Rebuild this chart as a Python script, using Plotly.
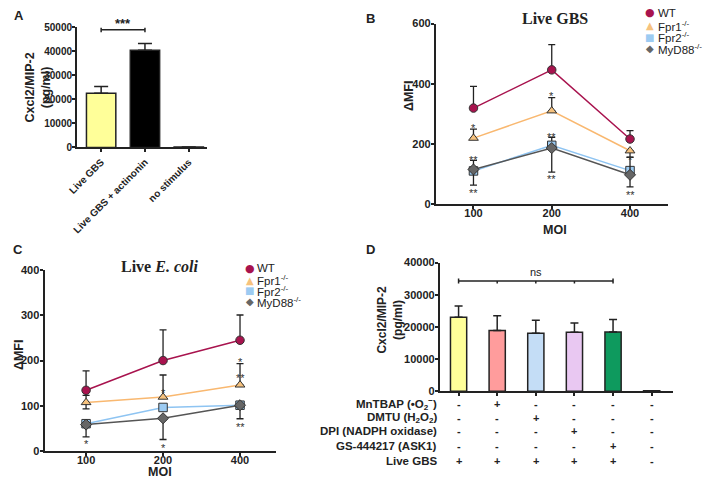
import plotly.graph_objects as go

W, H = 709, 487
def fx(p): return p / W
def fy(p): return 1 - p / H

FONT = "Arial, Liberation Sans, sans-serif"
SERIF = "Times New Roman, Liberation Serif, serif"
INK = "#222222"

# ---------------- data ----------------
A_labels = ["Live GBS", "Live GBS + actinonin", "no stimulus"]
A_values = [22600, 40500, 150]
A_err = [2800, 2800, 0]
A_colors = ["#FFFF99", "#000000", "#FFFFFF"]

moi_labels = ["100", "200", "400"]
series_names = ["WT", "Fpr1<sup>-/-</sup>", "Fpr2<sup>-/-</sup>", "MyD88<sup>-/-</sup>"]
series_colors = ["#A8134E", "#F9B870", "#8EC4F2", "#555555"]
marker_fill = ["#A8134E", "#F6C27E", "#9CCBF2", "#666666"]
marker_symbols = ["circle", "triangle-up", "square", "diamond"]
legend_glyphs = ["●", "▲", "■", "◆"]

# Panel B: Live GBS (mean, error up, error down)
B_WT = [319, 446, 216];   B_WT_up = [72, 84, 28];  B_WT_dn = [0, 0, 0]
B_F1 = [219, 310, 177];   B_F1_up = [30, 44, 0];   B_F1_dn = [0, 0, 22]
B_F2 = [110, 195, 111];   B_F2_up = [0, 27, 0];    B_F2_dn = [0, 0, 0]
B_MY = [115, 186, 97];    B_MY_up = [30, 0, 59];   B_MY_dn = [52, 80, 40]
B_stars = [(0, 262, "*"), (0, 157, "**"), (0, 46, "**"),
           (1, 368, "*"), (1, 232, "**"), (1, 94, "**"),
           (2, 157, "*"), (2, 41, "**")]

# Panel C: Live E. coli
C_WT = [134, 200, 245];   C_WT_up = [43, 68, 56];  C_WT_dn = [0, 0, 0]
C_F1 = [107, 119, 146];   C_F1_up = [16, 49, 47];  C_F1_dn = [14, 0, 0]
C_F2 = [60, 96, 101];     C_F2_up = [0, 0, 0];     C_F2_dn = [0, 0, 0]
C_MY = [58, 72, 101];     C_MY_up = [0, 0, 0];     C_MY_dn = [27, 47, 30]
C_stars = [(0, 22, "*"), (1, 135, "*"), (1, 13, "*"),
           (2, 204, "*"), (2, 168, "**"), (2, 60, "**")]

# Panel D
D_values = [23000, 18900, 18000, 18300, 18400, 150]
D_err = [3500, 4600, 4100, 2900, 3900, 0]
D_colors = ["#FFFF99", "#FF9C9C", "#C4DDF6", "#E9C8F2", "#0E9A5E", "#FFFFFF"]
D_rows = ["MnTBAP (•O<sub>2</sub><sup>−</sup>)", "DMTU (H<sub>2</sub>O<sub>2</sub>)",
          "DPI (NADPH oxidase)", "GS-444217 (ASK1)", "Live GBS"]
D_matrix = [["-", "+", "-", "-", "-", "-"],
            ["-", "-", "+", "-", "-", "-"],
            ["-", "-", "-", "+", "-", "-"],
            ["-", "-", "-", "-", "+", "-"],
            ["+", "+", "+", "+", "+", "-"]]

# ---------------- figure ----------------
fig = go.Figure()

def err(up, dn, w):
    return dict(type="data", symmetric=False, array=up, arrayminus=dn,
                color=INK, thickness=1.3, width=w)

# A
fig.add_trace(go.Bar(x=list(range(3)), y=A_values, width=0.67,
                     marker=dict(color=A_colors, line=dict(color=INK, width=1.5)),
                     error_y=dict(type="data", array=A_err, arrayminus=[0]*3, symmetric=False,
                                  color=INK, thickness=1.5, width=7),
                     xaxis="x", yaxis="y", showlegend=False))

# B and C
for axes, groups in (
    (("x2", "y2"), [(B_WT, B_WT_up, B_WT_dn), (B_F1, B_F1_up, B_F1_dn),
                    (B_F2, B_F2_up, B_F2_dn), (B_MY, B_MY_up, B_MY_dn)]),
    (("x3", "y3"), [(C_WT, C_WT_up, C_WT_dn), (C_F1, C_F1_up, C_F1_dn),
                    (C_F2, C_F2_up, C_F2_dn), (C_MY, C_MY_up, C_MY_dn)])):
    for i, (ys, up, dn) in enumerate(groups):
        fig.add_trace(go.Scatter(x=list(range(3)), y=ys, mode="lines+markers",
                                 line=dict(color=series_colors[i], width=1.5),
                                 marker=dict(symbol=marker_symbols[i], size=8.5, color=marker_fill[i],
                                             line=dict(color="#333333", width=1)),
                                 error_y=err(up, dn, 3.5), xaxis=axes[0], yaxis=axes[1],
                                 showlegend=False))

# D
fig.add_trace(go.Bar(x=list(range(6)), y=D_values, width=0.42,
                     marker=dict(color=D_colors, line=dict(color=INK, width=1.5)),
                     error_y=dict(type="data", array=D_err, arrayminus=[0]*6, symmetric=False,
                                  color=INK, thickness=1.5, width=4),
                     xaxis="x4", yaxis="y4", showlegend=False))

tickfont = dict(family=FONT, size=11, color=INK, weight="bold")
base = dict(showline=True, linecolor=INK, linewidth=2, ticks="outside", ticklen=3,
            tickwidth=1.5, tickcolor=INK, showgrid=False, zeroline=False, tickfont=tickfont)
xb = dict(base, ticklabelstandoff=-5)
yb = dict(base, ticklabelstandoff=-2, tickformat="d")

fig.update_layout(
    width=W, height=H, margin=dict(l=0, r=0, t=0, b=0),
    paper_bgcolor="white", plot_bgcolor="white", showlegend=False,
    xaxis=dict(base, domain=[fx(68), fx(200)], range=[-0.55, 2.42], tickvals=[0, 1, 2],
               ticktext=A_labels, tickangle=-45, anchor="y",
               tickfont=dict(tickfont, size=10)),
    yaxis=dict(yb, domain=[fy(145), fy(22)], range=[0, 50000], dtick=10000, anchor="x",
               tickfont=dict(tickfont, size=10)),
    xaxis2=dict(xb, domain=[fx(432), fx(667)], range=[-0.48, 2.48], tickvals=[0, 1, 2],
                ticktext=moi_labels, anchor="y2"),
    yaxis2=dict(yb, domain=[fy(203), fy(18)], range=[0, 600], dtick=200, anchor="x2"),
    xaxis3=dict(xb, domain=[fx(35), fx(270)], range=[-0.54, 2.47], tickvals=[0, 1, 2],
                ticktext=moi_labels, anchor="y3"),
    yaxis3=dict(yb, domain=[fy(456), fy(271)], range=[0, 400], dtick=100, anchor="x3"),
    xaxis4=dict(base, domain=[fx(436), fx(672)], range=[-0.485, 5.54], tickvals=list(range(6)),
                showticklabels=False, anchor="y4"),
    yaxis4=dict(yb, domain=[fy(395), fy(263)], range=[0, 40000], dtick=10000, anchor="x4"),
)

shapes = []
ann = []

def line(xref, yref, x0, y0, x1, y1):
    shapes.append(dict(type="line", xref=xref, yref=yref, x0=x0, y0=y0, x1=x1, y1=y1,
                       line=dict(color=INK, width=1.5)))

# A bracket
line("x", "y", 0, 49000, 1, 49000)
line("x", "y", 0, 48000, 0, 50000)
line("x", "y", 1, 48000, 1, 50000)
ann.append(dict(x=0.5, y=49000, xref="x", yref="y", text="***", showarrow=False,
                yshift=6, font=dict(family=FONT, size=13, color=INK, weight="bold")))

# D bracket
line("x4", "y4", 0, 34250, 4, 34250)
line("x4", "y4", 0, 33500, 0, 35000)
line("x4", "y4", 4, 33500, 4, 35000)
for k in (1, 2, 3):
    line("x4", "y4", k, 33500, k, 34250)
ann.append(dict(x=2, y=34250, xref="x4", yref="y4", text="ns", showarrow=False,
                yshift=9, font=dict(family=FONT, size=11, color=INK)))

# stars
for ref, stars in ((("x2", "y2"), B_stars), (("x3", "y3"), C_stars)):
    for (xx, yy, t) in stars:
        ann.append(dict(x=xx, y=yy, xref=ref[0], yref=ref[1], text=t, showarrow=False,
                        yshift=-3, font=dict(family=FONT, size=11, color="#333333")))

# D table
row_y = [408, 422, 436, 451, 466]
for r, label in enumerate(D_rows):
    ann.append(dict(x=fx(435), y=fy(row_y[r]), xref="paper", yref="paper", text=label,
                    showarrow=False, xanchor="right", yanchor="middle",
                    font=dict(family=FONT, size=11.5, color=INK, weight="bold")))
    for c, sym in enumerate(D_matrix[r]):
        ann.append(dict(x=c, y=fy(row_y[r]), xref="x4", yref="paper", text=sym,
                        showarrow=False, yanchor="middle",
                        font=dict(family=FONT, size=11, color=INK, weight="bold")))

def txt(x, y, t, size=12, bold=True, angle=0, family=FONT, anchor="center"):
    ann.append(dict(x=fx(x), y=fy(y), xref="paper", yref="paper", text=t, showarrow=False,
                    textangle=angle, xanchor=anchor, yanchor="middle",
                    font=dict(family=family, size=size, color=INK,
                              weight="bold" if bold else "normal")))

# panel letters
txt(9, 10, "A", 13); txt(366, 13, "B", 13); txt(8, 250, "C", 13); txt(366, 250, "D", 13)
# axis titles
txt(28, 84, "Cxcl2/MIP-2<br>(pg/ml)", 12.5, angle=-90)
txt(404, 92, "ΔMFI", 12.5, angle=-90)
txt(553, 230, "MOI", 12.5)
txt(9, 357, "ΔMFI", 12.5, angle=-90)
txt(152, 478, "MOI", 12.5)
txt(386, 322, "Cxcl2/MIP-2<br>(pg/ml)", 12, angle=-90)
# titles
txt(553, 13, "Live GBS", 16, family=SERIF)
txt(152, 267, "Live <i>E. coli</i>", 16, family=SERIF)

# legends
def legend(xm, ys):
    for i in range(4):
        ann.append(dict(x=fx(xm), y=fy(ys[i]), xref="paper", yref="paper",
                        text=legend_glyphs[i], showarrow=False, xanchor="center", yanchor="middle",
                        font=dict(family="DejaVu Sans", size=10 if i != 0 else 11,
                                  color=marker_fill[i])))
        ann.append(dict(x=fx(xm + 6), y=fy(ys[i]), xref="paper", yref="paper",
                        text=series_names[i], showarrow=False, xanchor="left", yanchor="middle",
                        font=dict(family=FONT, size=11.5, color=INK)))
legend(649, [7, 20, 32, 44])
legend(243, [269, 281, 292, 303])

fig.update_layout(shapes=shapes, annotations=ann)
fig.write_html("out.html", config={"displayModeBar": False},
               post_script="document.body.style.margin='0';")
